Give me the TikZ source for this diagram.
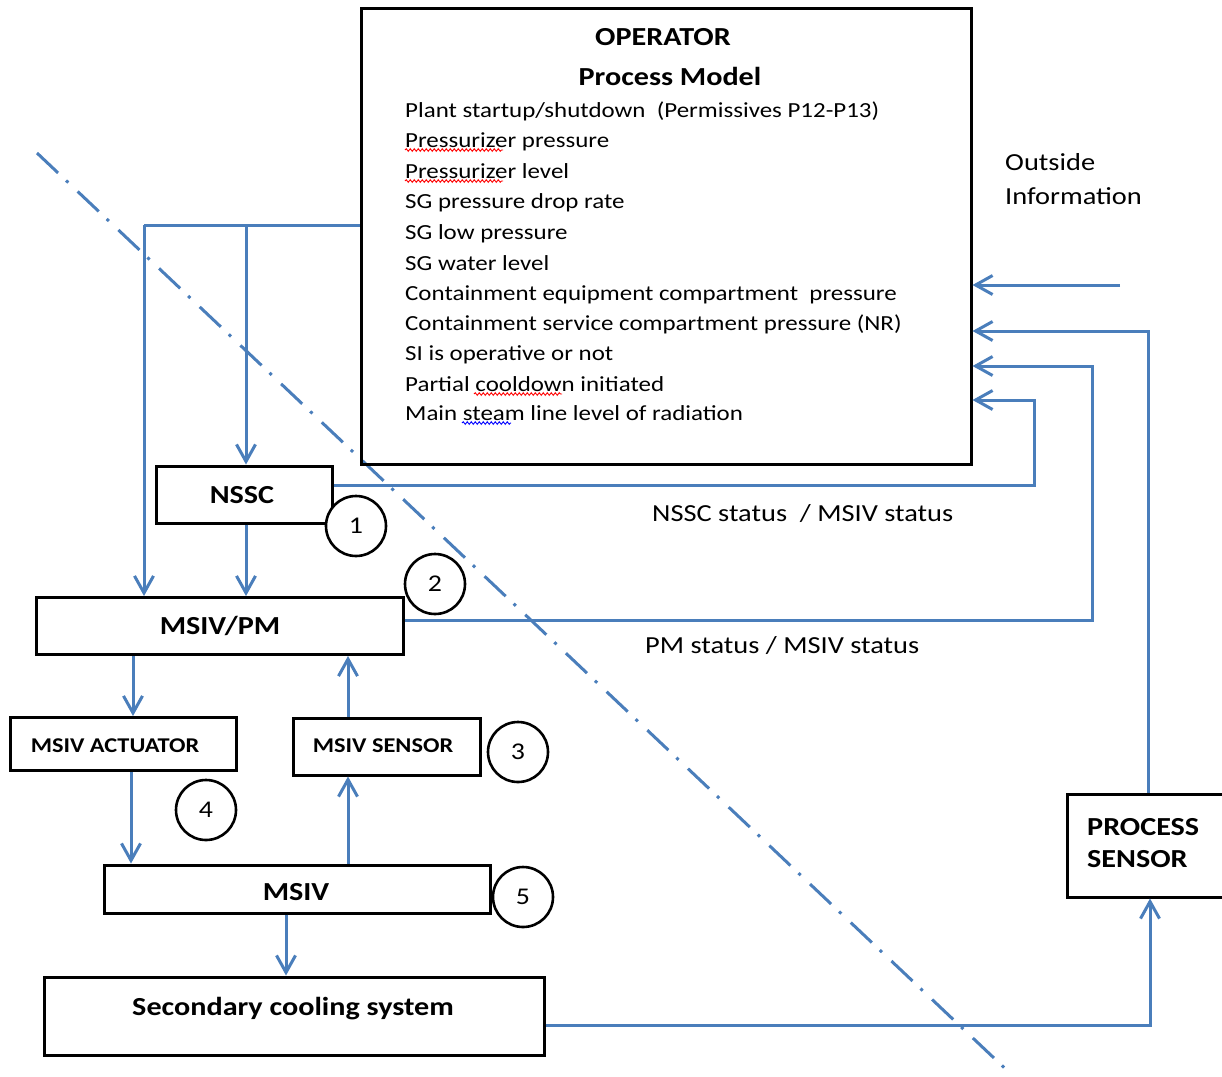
\documentclass[tikz,border=0pt]{standalone}
\usepackage{fontspec}
\setmainfont{Carlito}[FakeStretch=1.16]
\usetikzlibrary{arrows.meta,decorations.pathmorphing,calc}
\definecolor{flow}{HTML}{4A7EBB}

\tikzset{
  frame/.style={draw=black, line width=3pt, inner sep=0pt},
  boxlabel/.style={anchor=base, inner sep=0pt, font=\bfseries\fontsize{26}{30}\selectfont},
  smalllabel/.style={anchor=base, inner sep=0pt, font=\bfseries\fontsize{21}{25}\selectfont},
  item/.style={anchor=base west, inner sep=0pt, font=\fontsize{21.5}{25}\selectfont},
  note/.style={anchor=base west, inner sep=0pt, font=\fontsize{24.5}{29}\selectfont},
  num/.style={draw=black, circle, line width=2.6pt, minimum size=60pt, inner sep=0pt,
              fill=white, font=\fontsize{24}{28}\selectfont},
  wire/.style={draw=flow, line width=3pt},
  link/.style={wire, -{Straight Barb[length=17pt,width=19pt]}},
  divider/.style={draw=flow, line width=3pt, dash pattern=on 29pt off 11pt on 3pt off 13pt},
  squiggle/.style={line width=0.9pt, decorate,
                   decoration={snake, amplitude=1.3pt, segment length=4pt}},
}

\begin{document}
\begin{tikzpicture}[x=1pt,y=-1pt]
\useasboundingbox (0,0) rectangle (1222,1076);

% boundary between the operator side and the plant side
\coordinate (divA) at (37,153);
\coordinate (divB) at (1013,1076);
\draw[divider] (divA) -- (divB);

% ---------- operator box ----------
\node[frame, minimum width=610pt, minimum height=456pt] (op) at (666,236) {};
\node[boxlabel] (opT) at (663,45) {OPERATOR};
\node[boxlabel] (pmT) at (670,85) {Process Model};
\node[item] (i1)  at (405,117) {Plant startup/shutdown\ \ (Permissives P12-P13)};
\node[item] (i2)  at (405,147) {Pressurizer pressure};
\node[item] (i3)  at (405,178) {Pressurizer level};
\node[item] (i4)  at (405,208) {SG pressure drop rate};
\node[item] (i5)  at (405,239) {SG low pressure};
\node[item] (i6)  at (405,270) {SG water level};
\node[item] (i7)  at (405,300) {Containment equipment compartment\ \ pressure};
\node[item] (i8)  at (405,330) {Containment service compartment pressure (NR)};
\node[item] (i9)  at (405,360) {SI is operative or not};
\node[item] (i10) at (405,391) {Partial cooldown initiated};
\node[item] (i11) at (405,420) {Main steam line level of radiation};

% spell-check marks under some words
\draw[squiggle, red]  (405,150) -- (503,150);
\draw[squiggle, red]  (405,181) -- (503,181);
\draw[squiggle, red]  (474,394) -- (562,394);
\draw[squiggle, blue] (462,423) -- (511,423);

% ---------- outside information ----------
\node[note] (out1) at (1005,170) {Outside};
\node[note] (out2) at (1005,204) {Information};

% ---------- control blocks ----------
\node[frame, minimum width=176pt, minimum height=57pt] (nssc) at (244,494.5) {};
\node[boxlabel] (nsscT) at (242,503) {NSSC};

\node[frame, minimum width=367pt, minimum height=57pt] (pm) at (219.5,626) {};
\node[boxlabel] (pmL) at (220,634) {MSIV/PM};

\node[frame, minimum width=226pt, minimum height=53pt] (act) at (123.5,744) {};
\node[smalllabel] (actT) at (115,752) {MSIV ACTUATOR};

\node[frame, minimum width=187pt, minimum height=57pt] (sen) at (386.5,746.5) {};
\node[smalllabel] (senT) at (383,752) {MSIV SENSOR};

\node[frame, minimum width=386pt, minimum height=48pt] (msiv) at (297,889) {};
\node[boxlabel] (msivT) at (296,900) {MSIV};

\node[frame, minimum width=500pt, minimum height=78pt] (scs) at (294,1016) {};
\node[boxlabel] (scsT) at (293,1015) {Secondary cooling system};

\node[frame, minimum width=170pt, minimum height=103pt] (ps) at (1152,845.5) {};
\node[boxlabel, anchor=base west] (psT1) at (1087,835) {PROCESS};
\node[boxlabel, anchor=base west] (psT2) at (1087,867) {SENSOR};

% ---------- status labels ----------
\node[note] (lab1) at (652,521) {NSSC status\ \ /\ MSIV status};
\node[note] (lab2) at (645,653) {PM status\ /\ MSIV status};

% ---------- connectors ----------
\coordinate (tapL) at (144,225);
\coordinate (tapM) at (246,225);
\draw[wire] (op.west |- tapL) -- (tapL);
\draw[link] (tapL) -- (tapL |- pm.north);
\draw[link] (tapM) -- (tapM |- nssc.north);
\draw[link] (tapM |- nssc.south) -- (tapM |- pm.north);

\coordinate (xa) at (133,0);
\coordinate (xb) at (131,0);
\coordinate (xs) at (348,0);
\coordinate (xm) at (286,0);
\draw[link] (xa |- pm.south) -- (xa |- act.north);
\draw[link] (xb |- act.south) -- (xb |- msiv.north);
\draw[link] (xs |- msiv.north) -- (xs |- sen.south);
\draw[link] (xs |- sen.north) -- (xs |- pm.south);
\draw[link] (xm |- msiv.south) -- (xm |- scs.north);

% feedback paths to the operator
\coordinate (r1) at (1034,485);
\coordinate (r2) at (1092,620);
\coordinate (r3) at (1148,331);
\coordinate (r4) at (1034,400);
\coordinate (r5) at (1092,366);
\coordinate (outS) at (1120,285);
\draw[link] (nssc.east |- r1) -- (r1) -- (r4) -- (op.east |- r4);
\draw[link] (pm.east |- r2) -- (r2) -- (r5) -- (op.east |- r5);
\draw[link] (r3 |- ps.north) -- (r3) -- (op.east |- r3);
\draw[link] (outS) -- (op.east |- outS);

\coordinate (r6) at (1150,1025);
\draw[link] (scs.east |- r6) -- (r6) -- (r6 |- ps.south);

% ---------- numbered markers ----------
\node[num] (c1) at (356,526) {1};
\node[num] (c2) at (435,584) {2};
\node[num] (c3) at (518,752) {3};
\node[num] (c4) at (206,810) {4};
\node[num] (c5) at (523,897) {5};
\end{tikzpicture}
\end{document}
